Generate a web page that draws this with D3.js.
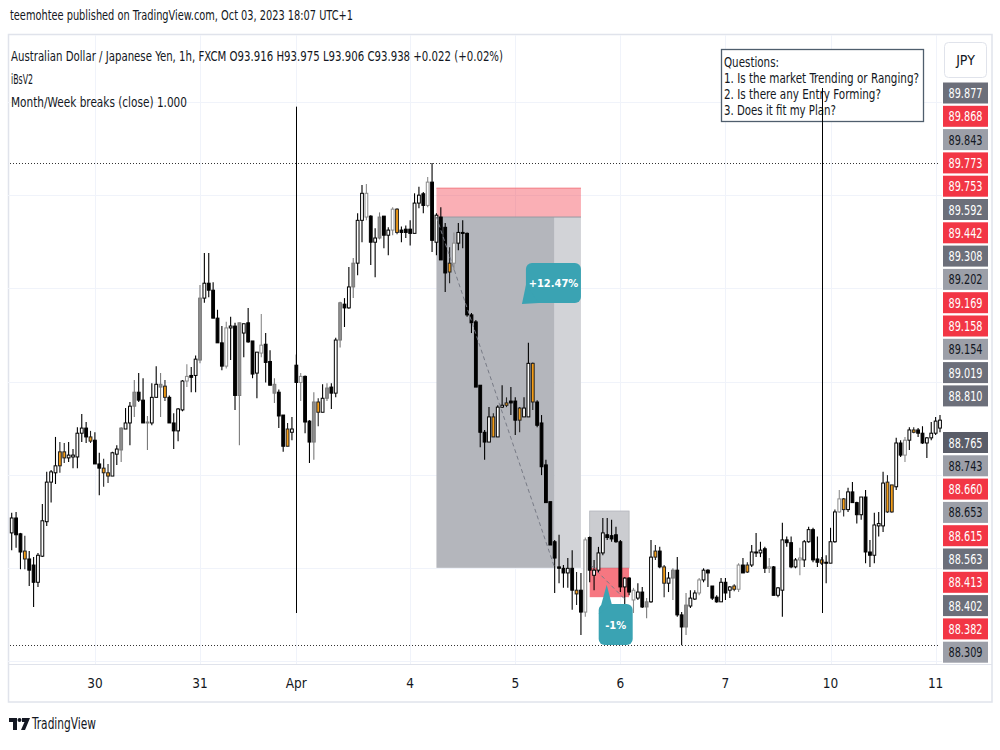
<!DOCTYPE html>
<html>
<head>
<meta charset="utf-8">
<script src="https://cdn.jsdelivr.net/npm/d3@7"></script>
<style>
  body { margin: 0; background: #ffffff; }
  text { font-family: "Liberation Sans Narrow", "DejaVu Sans Condensed", "Roboto", sans-serif; fill: #131722; }
</style>
</head>
<body>
<svg id="chart" width="1000" height="750"></svg>
<script>
// AUD/JPY 1h candles (one entry per bar)
var open = [
  88.475, 88.507, 88.473, 88.436, 88.419, 88.406, 88.369, 88.425, 88.499, 88.584,
  88.604, 88.619, 88.649, 88.636, 88.638, 88.638, 88.689, 88.700, 88.681, 88.674,
  88.623, 88.614, 88.604, 88.597, 88.644, 88.653, 88.698, 88.711, 88.747, 88.777,
  88.760, 88.711, 88.711, 88.766, 88.794, 88.790, 88.766, 88.711, 88.694, 88.739,
  88.801, 88.813, 88.813, 88.846, 88.979, 89.011, 88.996, 88.936, 88.883, 88.833,
  88.915, 88.919, 88.770, 88.904, 88.926, 88.887, 88.818, 88.861, 88.880, 88.843,
  88.794, 88.777, 88.728, 88.661, 88.691, 88.835, 88.798, 88.811, 88.715, 88.670,
  88.756, 88.734, 88.764, 88.788, 88.775, 88.889, 88.966, 88.958, 89.003, 89.054,
  89.146, 89.204, 89.155, 89.099, 89.108, 89.155, 89.114, 89.125, 89.170, 89.125,
  89.127, 89.127, 89.118, 89.183, 89.203, 89.178, 89.228, 89.099, 89.153, 89.131,
  89.035, 89.054, 89.097, 89.120, 89.118, 88.943, 88.928, 88.792, 88.691, 88.670,
  88.724, 88.681, 88.745, 88.749, 88.758, 88.758, 88.717, 88.724, 88.724, 88.839,
  88.756, 88.711, 88.621, 88.542, 88.456, 88.402, 88.399, 88.389, 88.399, 88.352,
  88.352, 88.305, 88.465, 88.384, 88.395, 88.432, 88.471, 88.469, 88.471, 88.456,
  88.359, 88.378, 88.331, 88.335, 88.348, 88.316, 88.327, 88.423, 88.436, 88.402,
  88.367, 88.378, 88.395, 88.299, 88.273, 88.318, 88.333, 88.346, 88.374, 88.395,
  88.361, 88.337, 88.327, 88.369, 88.352, 88.354, 88.354, 88.406, 88.391, 88.406,
  88.434, 88.432, 88.441, 88.399, 88.402, 88.341, 88.352, 88.460, 88.454, 88.402,
  88.417, 88.417, 88.456, 88.482, 88.419, 88.417, 88.412, 88.410, 88.456, 88.520,
  88.548, 88.525, 88.563, 88.540, 88.514, 88.552, 88.434, 88.427, 88.490, 88.490,
  88.584, 88.520, 88.574, 88.668, 88.642, 88.674, 88.696, 88.696, 88.689, 88.668,
  88.679, 88.689, 88.700
];
var high = [
  88.518, 88.520, 88.475, 88.469, 88.436, 88.423, 88.432, 88.537, 88.606, 88.610,
  88.681, 88.670, 88.668, 88.670, 88.655, 88.702, 88.730, 88.713, 88.694, 88.691,
  88.647, 88.634, 88.623, 88.649, 88.663, 88.702, 88.743, 88.756, 88.803, 88.818,
  88.807, 88.726, 88.796, 88.833, 88.818, 88.803, 88.770, 88.732, 88.743, 88.803,
  88.837, 88.831, 88.856, 89.007, 89.076, 89.076, 89.013, 88.954, 88.919, 88.928,
  88.939, 88.926, 88.926, 88.924, 88.958, 88.887, 88.863, 88.945, 88.904, 88.867,
  88.807, 88.783, 88.728, 88.711, 88.724, 88.858, 88.818, 88.813, 88.717, 88.777,
  88.764, 88.794, 88.796, 88.796, 88.894, 88.971, 88.979, 89.046, 89.065, 89.161,
  89.222, 89.224, 89.157, 89.129, 89.163, 89.155, 89.131, 89.174, 89.172, 89.133,
  89.135, 89.146, 89.204, 89.218, 89.207, 89.239, 89.269, 89.161, 89.174, 89.140,
  89.088, 89.120, 89.140, 89.146, 89.120, 88.947, 88.932, 88.792, 88.696, 88.745,
  88.732, 88.749, 88.792, 88.766, 88.788, 88.766, 88.745, 88.766, 88.883, 88.841,
  88.760, 88.728, 88.632, 88.542, 88.460, 88.471, 88.406, 88.421, 88.438, 88.391,
  88.389, 88.465, 88.467, 88.417, 88.445, 88.507, 88.507, 88.503, 88.488, 88.460,
  88.380, 88.380, 88.357, 88.367, 88.359, 88.335, 88.460, 88.449, 88.445, 88.406,
  88.391, 88.399, 88.423, 88.305, 88.346, 88.352, 88.352, 88.378, 88.399, 88.397,
  88.361, 88.341, 88.378, 88.378, 88.361, 88.365, 88.410, 88.421, 88.412, 88.449,
  88.475, 88.456, 88.445, 88.421, 88.404, 88.359, 88.497, 88.467, 88.467, 88.421,
  88.443, 88.460, 88.488, 88.486, 88.467, 88.423, 88.427, 88.486, 88.525, 88.567,
  88.550, 88.572, 88.584, 88.542, 88.552, 88.567, 88.460, 88.518, 88.520, 88.606,
  88.599, 88.578, 88.679, 88.674, 88.681, 88.702, 88.702, 88.700, 88.704, 88.681,
  88.713, 88.724, 88.728
];
var low = [
  88.438, 88.443, 88.397, 88.397, 88.361, 88.316, 88.359, 88.423, 88.490, 88.540,
  88.580, 88.604, 88.625, 88.627, 88.614, 88.614, 88.670, 88.668, 88.668, 88.623,
  88.556, 88.574, 88.582, 88.597, 88.621, 88.627, 88.698, 88.663, 88.724, 88.756,
  88.711, 88.653, 88.706, 88.766, 88.724, 88.758, 88.711, 88.655, 88.672, 88.736,
  88.788, 88.777, 88.777, 88.839, 88.969, 88.981, 88.936, 88.883, 88.824, 88.828,
  88.846, 88.739, 88.663, 88.852, 88.883, 88.807, 88.764, 88.852, 88.798, 88.792,
  88.754, 88.700, 88.649, 88.661, 88.674, 88.798, 88.758, 88.689, 88.625, 88.632,
  88.704, 88.734, 88.758, 88.741, 88.766, 88.873, 88.917, 88.956, 88.979, 89.028,
  89.099, 89.146, 89.050, 89.024, 89.105, 89.086, 89.071, 89.114, 89.116, 89.099,
  89.108, 89.092, 89.118, 89.172, 89.161, 89.174, 89.078, 89.071, 89.061, 88.992,
  89.011, 89.039, 89.082, 89.086, 88.939, 88.904, 88.788, 88.659, 88.632, 88.670,
  88.681, 88.681, 88.743, 88.745, 88.728, 88.685, 88.691, 88.724, 88.724, 88.739,
  88.702, 88.599, 88.540, 88.449, 88.346, 88.367, 88.357, 88.357, 88.310, 88.320,
  88.256, 88.295, 88.369, 88.352, 88.389, 88.427, 88.460, 88.456, 88.454, 88.348,
  88.314, 88.341, 88.303, 88.331, 88.314, 88.292, 88.325, 88.417, 88.399, 88.337,
  88.348, 88.331, 88.295, 88.234, 88.256, 88.314, 88.331, 88.341, 88.369, 88.359,
  88.331, 88.325, 88.327, 88.331, 88.335, 88.350, 88.348, 88.389, 88.389, 88.402,
  88.423, 88.423, 88.389, 88.389, 88.341, 88.337, 88.295, 88.445, 88.399, 88.399,
  88.384, 88.402, 88.454, 88.412, 88.402, 88.406, 88.367, 88.410, 88.454, 88.518,
  88.510, 88.520, 88.540, 88.495, 88.503, 88.410, 88.402, 88.410, 88.467, 88.477,
  88.518, 88.518, 88.567, 88.638, 88.627, 88.653, 88.689, 88.681, 88.666, 88.636,
  88.674, 88.685, 88.691
];
var close = [
  88.507, 88.471, 88.434, 88.419, 88.395, 88.369, 88.427, 88.501, 88.584, 88.606,
  88.619, 88.649, 88.636, 88.642, 88.642, 88.689, 88.700, 88.681, 88.672, 88.623,
  88.614, 88.604, 88.597, 88.647, 88.655, 88.700, 88.711, 88.747, 88.777, 88.760,
  88.711, 88.713, 88.766, 88.794, 88.788, 88.766, 88.711, 88.694, 88.741, 88.801,
  88.811, 88.809, 88.848, 88.979, 89.011, 88.996, 88.936, 88.883, 88.833, 88.915,
  88.919, 88.770, 88.926, 88.924, 88.885, 88.816, 88.863, 88.878, 88.841, 88.792,
  88.775, 88.726, 88.661, 88.698, 88.698, 88.798, 88.811, 88.713, 88.670, 88.756,
  88.734, 88.764, 88.786, 88.775, 88.889, 88.969, 88.958, 89.003, 89.054, 89.146,
  89.204, 89.153, 89.099, 89.108, 89.153, 89.114, 89.125, 89.170, 89.120, 89.120,
  89.120, 89.118, 89.183, 89.200, 89.178, 89.228, 89.103, 89.157, 89.061, 89.033,
  89.054, 89.097, 89.120, 89.118, 88.943, 88.926, 88.788, 88.691, 88.670, 88.724,
  88.681, 88.745, 88.749, 88.754, 88.754, 88.717, 88.743, 88.743, 88.839, 88.756,
  88.706, 88.617, 88.540, 88.449, 88.421, 88.399, 88.389, 88.399, 88.352, 88.344,
  88.305, 88.460, 88.395, 88.395, 88.432, 88.475, 88.465, 88.462, 88.456, 88.359,
  88.378, 88.348, 88.352, 88.348, 88.316, 88.327, 88.423, 88.436, 88.402, 88.367,
  88.378, 88.395, 88.299, 88.273, 88.320, 88.335, 88.346, 88.374, 88.395, 88.389,
  88.335, 88.327, 88.369, 88.346, 88.359, 88.361, 88.406, 88.389, 88.406, 88.434,
  88.432, 88.438, 88.399, 88.402, 88.341, 88.357, 88.460, 88.454, 88.402, 88.417,
  88.421, 88.456, 88.482, 88.417, 88.412, 88.410, 88.410, 88.456, 88.520, 88.548,
  88.525, 88.563, 88.540, 88.514, 88.552, 88.434, 88.427, 88.492, 88.495, 88.582,
  88.520, 88.578, 88.668, 88.642, 88.674, 88.696, 88.691, 88.689, 88.668, 88.679,
  88.689, 88.715, 88.717
];
// bar colouring from the iBsV2 script: u white, d black, g grey, h grey outline, o orange
var barType = ('uddodduuuu' + 'uoouuuudod' + 'doouuguugd' + 'dguugodduu' + 'hduguddddh' +
               'udgudduhdd' + 'gddoudhddg' + 'ougdugdugu' + 'uhdugduhod' + 'dduudhdudd' +
               'ohuddddddu' + 'ouuoddouuo' + 'dddddddudo' + 'dhduuudddd' + 'udhudguodo' +
               'ugddguuhud' + 'dduduohdou' + 'dudhduuddu' + 'huuddoduuh' + 'ouddudduuu' +
               'ooudhuoddu' + 'uuu').split('');

// time axis: bar index of each day label
var dayLabels = ['30', '31', 'Apr', '4', '5', '6', '7', '10', '11'];
var dayIndex = [19, 43, 65, 91, 115, 139, 163, 187, 211];

// Month/Week breaks indicator
var breakIndex = [65, 185];
var breakTop = [89.39, 89.43];
var breakBottom = [88.303, 88.303];

// short position (drawn tool)
var shortStart = 97, shortHit = 124, shortEnd = 130;
var shortEntry = 89.153, shortStop = 89.215, shortTarget = 88.400;
// long position (drawn tool)
var longStart = 132, longEnd = 141, longHit = 140;
var longEntry = 88.400, longStop = 88.337, longTarget = 88.522;
var bubbleText = ['+12.47%', '-1%'];

// right scale price labels (stacked)
var priceLabels = ['89.877', '89.868', '89.843', '89.773', '89.753', '89.592', '89.442', '89.308',
                   '89.202', '89.169', '89.158', '89.154', '89.019', '88.810', '88.765', '88.743',
                   '88.660', '88.653', '88.615', '88.563', '88.413', '88.402', '88.382', '88.309'];
var priceKinds = ['dark', 'red', 'light', 'red', 'red', 'dark', 'red', 'dark',
                  'light', 'red', 'red', 'light', 'dark', 'dark', 'last', 'light',
                  'red', 'light', 'red', 'dark', 'red', 'dark', 'red', 'light'];

var questions = ['Questions:', '1. Is the market Trending or Ranging?', '2. Is there any Entry Forming?', '3. Does it fit my Plan?'];
var questionWidth = [55, 195, 157, 112];

var svg = d3.select('#chart');
var x = d3.scaleLinear().domain([0, 212]).range([11.7, 940]);
var y = d3.scaleLinear().domain([88.2, 89.4]).range([661, 102]);
var bars = d3.range(close.length);

var paneLeft = 8, paneRight = 942, paneTop = 35, paneBottom = 664;

// frame
svg.append('rect').attr('x', 0).attr('y', 0).attr('width', 1000).attr('height', 750).attr('fill', '#fff');
svg.append('rect').attr('x', 8.5).attr('y', 34.5).attr('width', 983.5).attr('height', 667.5)
  .attr('fill', 'none').attr('stroke', '#e0e3eb').attr('stroke-width', 1.5);
svg.append('line').attr('x1', 8).attr('x2', 992).attr('y1', paneBottom + 0.5).attr('y2', paneBottom + 0.5)
  .attr('stroke', '#e0e3eb');

// grid
svg.append('g').selectAll('line').data(y.ticks(6)).enter().append('line')
  .attr('x1', paneLeft).attr('x2', paneRight)
  .attr('y1', function (d) { return Math.round(y(d)) + 0.5; })
  .attr('y2', function (d) { return Math.round(y(d)) + 0.5; })
  .attr('stroke', '#f0f3fa');
svg.append('g').selectAll('line').data(dayIndex).enter().append('line')
  .attr('x1', function (d) { return Math.round(x(d)) + 0.5; })
  .attr('x2', function (d) { return Math.round(x(d)) + 0.5; })
  .attr('y1', paneTop).attr('y2', paneBottom)
  .attr('stroke', '#f0f3fa');

// position tools: zones under the bars
var tools = svg.append('g');
tools.append('rect')
  .attr('x', x(shortStart)).attr('width', x(shortEnd) - x(shortStart))
  .attr('y', y(shortStop)).attr('height', y(shortEntry) - y(shortStop))
  .attr('fill', 'rgba(242,54,69,0.4)');
tools.append('line')
  .attr('x1', x(shortStart)).attr('x2', x(shortEnd))
  .attr('y1', y(shortStop)).attr('y2', y(shortStop))
  .attr('stroke', '#f27882').attr('stroke-width', 1);
tools.append('rect')
  .attr('x', x(shortStart)).attr('width', x(shortHit) - x(shortStart))
  .attr('y', y(shortEntry)).attr('height', y(shortTarget) - y(shortEntry))
  .attr('fill', '#b4b6bc');
tools.append('rect')
  .attr('x', x(shortHit)).attr('width', x(shortEnd) - x(shortHit))
  .attr('y', y(shortEntry)).attr('height', y(shortTarget) - y(shortEntry))
  .attr('fill', '#d2d3d7');
tools.append('line')
  .attr('x1', x(shortStart)).attr('x2', x(shortEnd))
  .attr('y1', y(shortEntry)).attr('y2', y(shortEntry))
  .attr('stroke', '#9598a1').attr('stroke-width', 1);

tools.append('rect')
  .attr('x', x(longStart)).attr('width', x(longEnd) - x(longStart))
  .attr('y', y(longTarget)).attr('height', y(longEntry) - y(longTarget))
  .attr('fill', '#cbccd0').attr('stroke', '#b2b5bb').attr('stroke-width', 0.8);
tools.append('rect')
  .attr('x', x(longStart)).attr('width', x(longEnd) - x(longStart))
  .attr('y', y(longEntry)).attr('height', y(longStop) - y(longEntry))
  .attr('fill', 'rgba(242,54,69,0.68)');

// highest high / lowest low dotted lines
[d3.max(high), d3.min(low)].forEach(function (p) {
  svg.append('line')
    .attr('x1', paneLeft + 2).attr('x2', paneRight - 4)
    .attr('y1', Math.round(y(p)) + 0.5).attr('y2', Math.round(y(p)) + 0.5)
    .attr('stroke', '#333').attr('stroke-dasharray', '1,2');
});

// candles
var fillOf = {u: '#ffffff', d: '#000000', g: '#8d8d8d', h: '#ffffff', o: '#f59d16'};
var strokeOf = {u: '#000000', d: '#000000', g: '#7a7a7a', h: '#8a8a8a', o: '#222222'};
var candles = svg.append('g');
candles.selectAll('line').data(bars).enter().append('line')
  .attr('x1', function (i) { return x(i); })
  .attr('x2', function (i) { return x(i); })
  .attr('y1', function (i) { return y(high[i]); })
  .attr('y2', function (i) { return y(low[i]); })
  .attr('stroke', function (i) { return strokeOf[barType[i]]; })
  .attr('stroke-width', 1.1);
candles.selectAll('rect').data(bars).enter().append('rect')
  .attr('x', function (i) { return x(i) - 1.4; })
  .attr('width', 2.8)
  .attr('y', function (i) { return y(Math.max(open[i], close[i])); })
  .attr('height', function (i) { return Math.max(1, Math.abs(y(open[i]) - y(close[i]))); })
  .attr('fill', function (i) { return fillOf[barType[i]]; })
  .attr('stroke', function (i) { return strokeOf[barType[i]]; })
  .attr('stroke-width', 1);

// month / week break lines
svg.append('g').selectAll('line').data(breakIndex).enter().append('line')
  .attr('x1', function (d) { return Math.round(x(d)) + 0.5; })
  .attr('x2', function (d) { return Math.round(x(d)) + 0.5; })
  .attr('y1', function (d, k) { return y(breakTop[k]); })
  .attr('y2', function (d, k) { return y(breakBottom[k]); })
  .attr('stroke', '#000').attr('stroke-width', 1);

// trade path dashes
svg.append('line')
  .attr('x1', x(shortStart)).attr('y1', y(shortEntry))
  .attr('x2', x(shortHit)).attr('y2', y(shortTarget))
  .attr('stroke', '#787b86').attr('stroke-width', 1).attr('stroke-dasharray', '4,3');
svg.append('line')
  .attr('x1', x(longStart) + 2).attr('y1', y(longEntry) - 2)
  .attr('x2', x(longHit)).attr('y2', y(longStop) + 2)
  .attr('stroke', '#787b86').attr('stroke-width', 1).attr('stroke-dasharray', '4,3');

// result bubbles
var teal = '#3aa3b3';
function bubble(bx, by, bw, bh, tail, label) {
  var g = svg.append('g');
  g.append('rect').attr('x', bx).attr('y', by).attr('width', bw).attr('height', bh)
    .attr('rx', 6).attr('fill', teal);
  g.append('path').attr('d', d3.line()(tail)).attr('fill', teal);
  g.append('text').attr('x', bx + bw / 2).attr('y', by + bh / 2 + 4)
    .attr('text-anchor', 'middle').style('font-size', '11px').style('font-weight', 'bold')
    .style('fill', '#ffffff').text(label);
}
var b1r = x(shortEnd), b1t = 263;
bubble(b1r - 55, b1t, 55, 40,
  [[b1r - 55, b1t + 22], [b1r - 59, b1t + 41], [b1r - 42, b1t + 40]], bubbleText[0]);
var b2l = x(longStart) + 9, b2t = 604;
bubble(b2l, b2t, 34, 41,
  [[b2l, b2t + 10], [b2l + 8, y(longEntry) + 17], [b2l + 13, b2t]], bubbleText[1]);

// questions note
var note = svg.append('g');
note.append('rect').attr('x', 721.5).attr('y', 49.5).attr('width', 202).attr('height', 72)
  .attr('fill', '#ffffff').attr('stroke', '#4f5e6d').attr('stroke-width', 1.3);
note.selectAll('text').data(questions).enter().append('text')
  .attr('x', 724).attr('y', function (d, k) { return 67 + k * 16; })
  .attr('textLength', function (d, k) { return questionWidth[k]; })
  .attr('lengthAdjust', 'spacingAndGlyphs')
  .style('font-size', '13.5px').text(function (d) { return d; });
// the week break line is drawn over the note
svg.append('line')
  .attr('x1', Math.round(x(breakIndex[1])) + 0.5).attr('x2', Math.round(x(breakIndex[1])) + 0.5)
  .attr('y1', y(breakTop[1])).attr('y2', 122)
  .attr('stroke', '#000').attr('stroke-width', 1);

// legend
svg.append('text').attr('x', 11).attr('y', 61).attr('textLength', 492).attr('lengthAdjust', 'spacingAndGlyphs')
  .style('font-size', '14px')
  .text('Australian Dollar / Japanese Yen, 1h, FXCM  O93.916  H93.975  L93.906  C93.938  +0.022 (+0.02%)');
svg.append('text').attr('x', 11).attr('y', 84).attr('textLength', 22).attr('lengthAdjust', 'spacingAndGlyphs')
  .style('font-size', '14px').text('iBsV2');
svg.append('text').attr('x', 11).attr('y', 107).attr('textLength', 176).attr('lengthAdjust', 'spacingAndGlyphs')
  .style('font-size', '14px').text('Month/Week breaks (close)  1.000');

// price scale labels
var kindFill = {red: '#f23645', dark: '#6c6f7a', light: '#9c9fa8', last: '#5a5d68'};
var kindText = {red: '#ffffff', dark: '#ffffff', light: '#131722', last: '#ffffff'};
var slot = d3.scaleLinear().domain([0, 1]).range([93, 116.3]);
function slotOf(k) { return k < 14 ? k : k + 1; }
var axisG = svg.append('g');
axisG.selectAll('rect').data(priceLabels).enter().append('rect')
  .attr('x', 943).attr('width', 45)
  .attr('y', function (d, k) { return slot(slotOf(k)) - 10.5; })
  .attr('height', 21)
  .attr('fill', function (d, k) { return kindFill[priceKinds[k]]; });
axisG.selectAll('text').data(priceLabels).enter().append('text')
  .attr('x', 965.5).attr('y', function (d, k) { return slot(slotOf(k)) + 5; })
  .attr('text-anchor', 'middle').attr('textLength', 34).attr('lengthAdjust', 'spacingAndGlyphs')
  .style('font-size', '14px')
  .style('fill', function (d, k) { return kindText[priceKinds[k]]; })
  .text(function (d) { return d; });

// currency button
svg.append('rect').attr('x', 944.5).attr('y', 42.5).attr('width', 42).attr('height', 35).attr('rx', 4)
  .attr('fill', '#ffffff').attr('stroke', '#e0e3eb');
svg.append('text').attr('x', 965.5).attr('y', 65).attr('text-anchor', 'middle')
  .style('font-size', '14px').text('JPY');

// time axis labels
svg.append('g').selectAll('text').data(dayLabels).enter().append('text')
  .attr('x', function (d, k) { return x(dayIndex[k]); })
  .attr('y', 688).attr('text-anchor', 'middle')
  .style('font-size', '13.5px').text(function (d) { return d; });

// header + branding
svg.append('text').attr('x', 10).attr('y', 20).attr('textLength', 343).attr('lengthAdjust', 'spacingAndGlyphs')
  .style('font-size', '14px').text('teemohtee published on TradingView.com, Oct 03, 2023 18:07 UTC+1');
var logo = svg.append('g').attr('fill', '#131722');
logo.append('path').attr('d', 'M9,718 H17 V730 H13 V722 H9 Z');
logo.append('circle').attr('cx', 19.5).attr('cy', 720).attr('r', 2);
logo.append('path').attr('d', 'M22,718 H30 L25,730 H21 L24.5,722 H22 Z');
svg.append('text').attr('x', 32).attr('y', 729).attr('textLength', 64).attr('lengthAdjust', 'spacingAndGlyphs')
  .style('font-size', '15px').text('TradingView');
</script>
</body>
</html>
